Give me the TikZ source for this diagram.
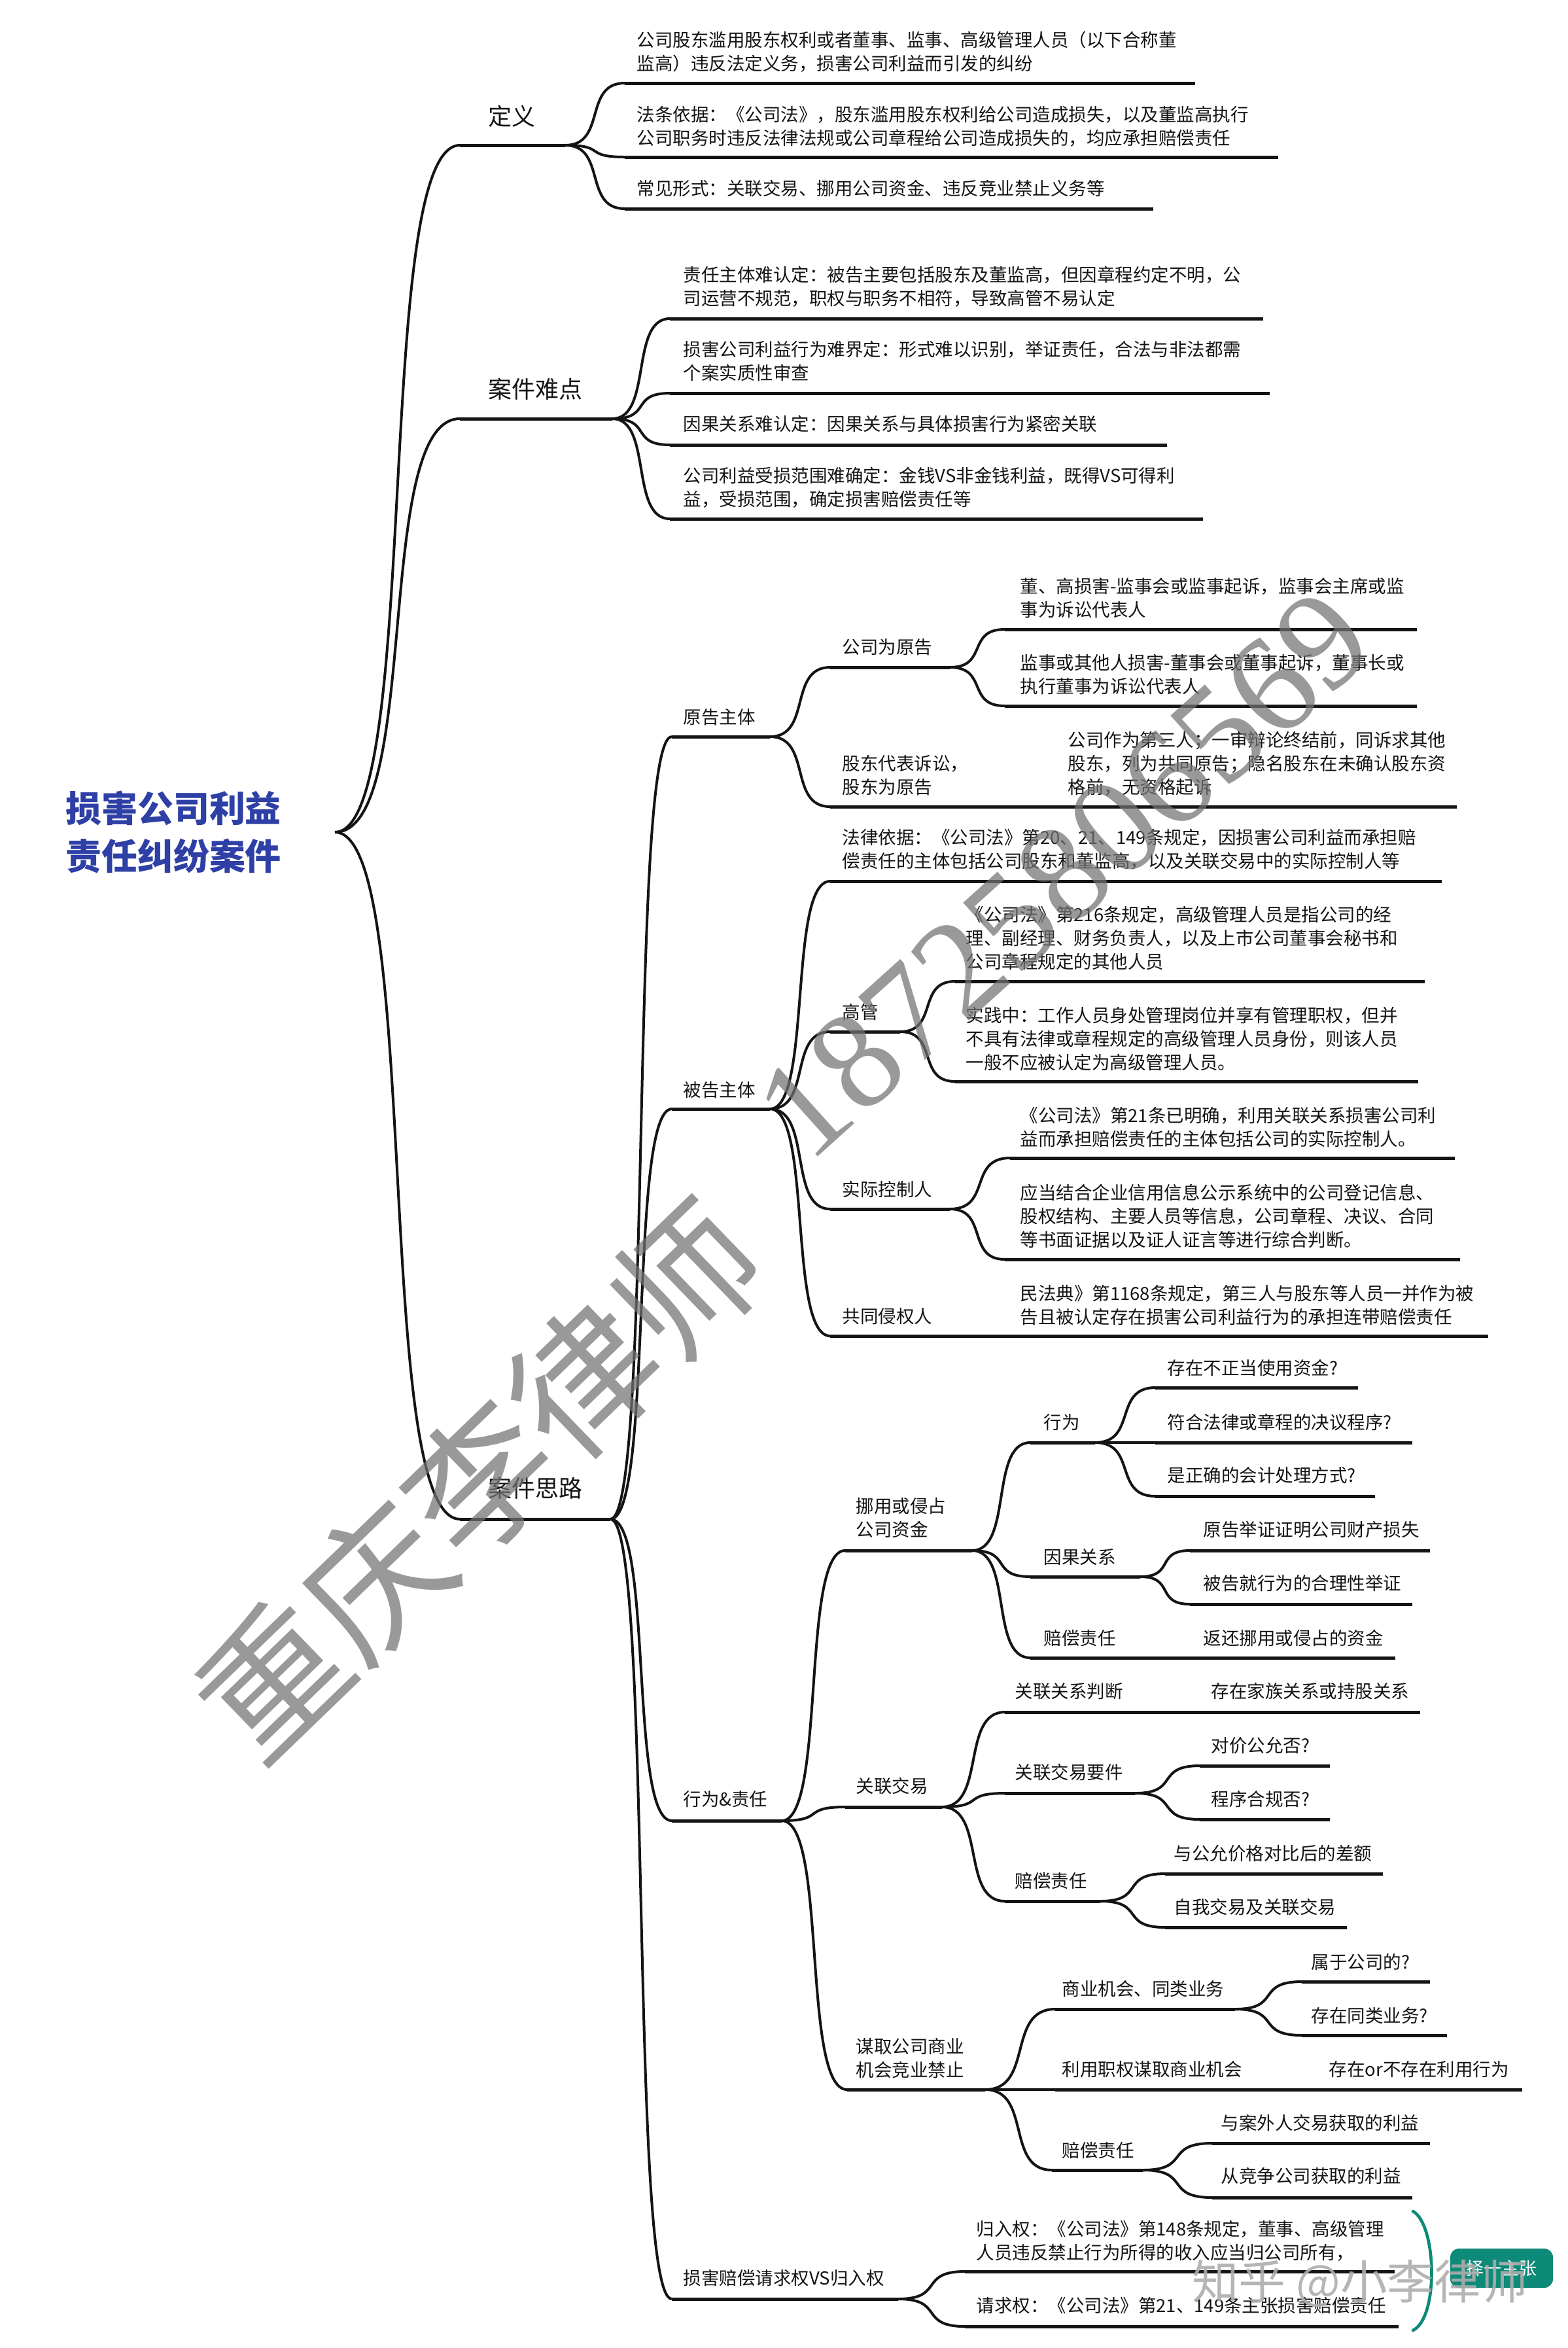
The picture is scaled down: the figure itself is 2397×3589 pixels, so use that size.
\documentclass[tikz,border=0pt]{standalone}
\usepackage{fontspec}
\setmainfont{Noto Sans CJK SC}
\newfontfamily\wmserif{Liberation Serif}
\usetikzlibrary{calc}
\definecolor{titleblue}{HTML}{2E3FA6}
\definecolor{tealbox}{HTML}{0E8A78}
\tikzset{
  barline/.style={line width=1.5pt,black!92},
  wire/.style={line width=1.2pt,black!92},
  lbl/.style={anchor=west,inner sep=0pt,xshift=-0.6pt,align=left,font=\fontsize{8.25}{10.8}\selectfont,text=black!92},
  lblbig/.style={anchor=west,inner sep=0pt,align=left,font=\fontsize{10.8}{13}\selectfont,text=black!92},
  mark wm/.style={text=black!55,opacity=.72,inner sep=0pt}
}
\newcommand\topicbar[4]{\coordinate (#1-l) at (#2,#4);\coordinate (#1-r) at (#3,#4);\draw[barline] (#1-l) -- (#1-r);}
\newcommand\conn[3][.7]{\draw[wire] let \p1=(#2),\p2=(#3),\n1={\x2-\x1} in (\p1) .. controls (\x1+#1*\n1,\y1) and (\x2-#1*\n1,\y2) .. (\p2);}
\begin{document}
\begin{tikzpicture}[x=0.3pt,y=-0.3pt]
\useasboundingbox (0,0) rectangle (2397,3589);
\fill[white] (0,0) rectangle (2397,3589);
% root
\node[inner sep=0pt,align=center,text=titleblue,font=\fontsize{16.5}{21.9}\selectfont\bfseries] (root) at (265,1272) {损害公司利益\\责任纠纷案件};
\coordinate (root-r) at (512,1272);
% level 1
\topicbar{a}{703}{864}{222}\node[lblbig] (at) at (746,178) {定义};
\topicbar{b}{703}{936}{640}\node[lblbig] (bt) at (746,595) {案件难点};
\topicbar{c}{703}{933}{2322}\node[lblbig] (ct) at (746,2275) {案件思路};
\conn{root-r}{a-l}\conn{root-r}{b-l}\conn{root-r}{c-l}
% definition
\topicbar{a1}{955}{1827}{127}\node[lbl] (a1t) at (975,79) {公司股东滥用股东权利或者董事、监事、高级管理人员（以下合称董\\监高）违反法定义务，损害公司利益而引发的纠纷};
\topicbar{a2}{955}{1954}{240}\node[lbl] (a2t) at (975,193) {法条依据：《公司法》，股东滥用股东权利给公司造成损失，以及董监高执行\\公司职务时违反法律法规或公司章程给公司造成损失的，均应承担赔偿责任};
\topicbar{a3}{955}{1763}{319}\node[lbl] (a3t) at (975,288) {常见形式：关联交易、挪用公司资金、违反竞业禁止义务等};
\conn{a-r}{a1-l}\conn{a-r}{a2-l}\conn{a-r}{a3-l}
% difficulties
\topicbar{b1}{1024}{1931}{487}\node[lbl] (b1t) at (1046,438) {责任主体难认定：被告主要包括股东及董监高，但因章程约定不明，公\\司运营不规范，职权与职务不相符，导致高管不易认定};
\topicbar{b2}{1024}{1941}{601}\node[lbl] (b2t) at (1046,552) {损害公司利益行为难界定：形式难以识别，举证责任，合法与非法都需\\个案实质性审查};
\topicbar{b3}{1024}{1784}{680}\node[lbl] (b3t) at (1046,648) {因果关系难认定：因果关系与具体损害行为紧密关联};
\topicbar{b4}{1024}{1839}{793}\node[lbl] (b4t) at (1046,745) {公司利益受损范围难确定：金钱VS非金钱利益，既得VS可得利\\益，受损范围，确定损害赔偿责任等};
\conn{b-r}{b1-l}\conn{b-r}{b2-l}\conn{b-r}{b3-l}\conn{b-r}{b4-l}
% ideas level 2
\topicbar{p}{1027}{1177}{1126}\node[lbl] (pt) at (1046,1096) {原告主体};
\topicbar{d}{1027}{1177}{1695}\node[lbl] (dt) at (1046,1666) {被告主体};
\topicbar{x}{1027}{1195}{2783}\node[lbl] (xt) at (1046,2750) {行为\&责任};
\topicbar{s}{1027}{1373}{3514}\node[lbl] (st) at (1046,3482) {损害赔偿请求权VS归入权};
\conn{c-r}{p-l}\conn{c-r}{d-l}\conn{c-r}{x-l}\conn{c-r}{s-l}
% plaintiff
\topicbar{p1}{1269}{1452}{1020}\node[lbl] (p1t) at (1289,989) {公司为原告};
\topicbar{p2}{1269}{1600}{1233}\node[lbl] (p2t) at (1289,1185) {股东代表诉讼，\\股东为原告};
\conn{p-r}{p1-l}\conn{p-r}{p2-l}
\topicbar{p11}{1536}{2166}{962}\node[lbl] (p11t) at (1561,914) {董、高损害-监事会或监事起诉，监事会主席或监\\事为诉讼代表人};
\topicbar{p12}{1536}{2166}{1079}\node[lbl] (p12t) at (1561,1031) {监事或其他人损害-董事会或董事起诉，董事长或\\执行董事为诉讼代表人};
\conn{p1-r}{p11-l}\conn{p1-r}{p12-l}
\topicbar{p21}{1600}{2227}{1233}\node[lbl] (p21t) at (1634,1167) {公司作为第三人；一审辩论终结前，同诉求其他\\股东，列为共同原告；隐名股东在未确认股东资\\格前，无资格起诉};
% defendant
\topicbar{d0}{1269}{2204}{1347}\node[lbl] (d0t) at (1289,1298) {法律依据：《公司法》第20、21、149条规定，因损害公司利益而承担赔\\偿责任的主体包括公司股东和董监高，以及关联交易中的实际控制人等};
\topicbar{d1}{1269}{1376}{1577}\node[lbl] (d1t) at (1289,1547) {高管};
\topicbar{d2}{1269}{1452}{1848}\node[lbl] (d2t) at (1289,1818) {实际控制人};
\topicbar{d3}{1269}{1561}{2042}\node[lbl] (d3t) at (1289,2012) {共同侵权人};
\conn{d-r}{d0-l}\conn{d-r}{d1-l}\conn{d-r}{d2-l}\conn{d-r}{d3-l}
\topicbar{d11}{1460}{2178}{1500}\node[lbl] (d11t) at (1478,1434) {《公司法》第216条规定，高级管理人员是指公司的经\\理、副经理、财务负责人，以及上市公司董事会秘书和\\公司章程规定的其他人员};
\topicbar{d12}{1460}{2168}{1653}\node[lbl] (d12t) at (1478,1588) {实践中：工作人员身处管理岗位并享有管理职权，但并\\不具有法律或章程规定的高级管理人员身份，则该人员\\一般不应被认定为高级管理人员。};
\conn{d1-r}{d11-l}\conn{d1-r}{d12-l}
\topicbar{d21}{1544}{2224}{1770}\node[lbl] (d21t) at (1561,1723) {《公司法》第21条已明确，利用关联关系损害公司利\\益而承担赔偿责任的主体包括公司的实际控制人。};
\topicbar{d22}{1536}{2232}{1925}\node[lbl] (d22t) at (1561,1859) {应当结合企业信用信息公示系统中的公司登记信息、\\股权结构、主要人员等信息，公司章程、决议、合同\\等书面证据以及证人证言等进行综合判断。};
\conn{d2-r}{d21-l}\conn{d2-r}{d22-l}
\topicbar{d31}{1561}{2275}{2042}\node[lbl] (d31t) at (1561,1995) {民法典》第1168条规定，第三人与股东等人员一并作为被\\告且被认定存在损害公司利益行为的承担连带赔偿责任};
% acts
\topicbar{x1}{1292}{1486}{2370}\node[lbl] (x1t) at (1310,2320) {挪用或侵占\\公司资金};
\topicbar{x2}{1292}{1440}{2762}\node[lbl] (x2t) at (1310,2730) {关联交易};
\topicbar{x3}{1295}{1506}{3194}\node[lbl] (x3t) at (1310,3146) {谋取公司商业\\机会竞业禁止};
\conn{x-r}{x1-l}\conn{x-r}{x2-l}\conn{x-r}{x3-l}
\topicbar{m1}{1575}{1674}{2205}\node[lbl] (m1t) at (1597,2174) {行为};
\topicbar{m2}{1575}{1743}{2410}\node[lbl] (m2t) at (1597,2380) {因果关系};
\topicbar{m3}{1575}{1819}{2534}\node[lbl] (m3t) at (1597,2504) {赔偿责任};
\conn{x1-r}{m1-l}\conn{x1-r}{m2-l}\conn{x1-r}{m3-l}
\topicbar{m11}{1766}{2076}{2121}\node[lbl] (m11t) at (1786,2091) {存在不正当使用资金?};
\topicbar{m12}{1766}{2159}{2205}\node[lbl] (m12t) at (1786,2174) {符合法律或章程的决议程序?};
\topicbar{m13}{1766}{2102}{2287}\node[lbl] (m13t) at (1786,2255) {是正确的会计处理方式?};
\conn{m1-r}{m11-l}\conn{m1-r}{m12-l}\conn{m1-r}{m13-l}
\topicbar{m21}{1819}{2186}{2370}\node[lbl] (m21t) at (1841,2338) {原告举证证明公司财产损失};
\topicbar{m22}{1819}{2159}{2452}\node[lbl] (m22t) at (1841,2420) {被告就行为的合理性举证};
\conn{m2-r}{m21-l}\conn{m2-r}{m22-l}
\topicbar{m31}{1819}{2133}{2534}\node[lbl] (m31t) at (1841,2504) {返还挪用或侵占的资金};
\topicbar{r1}{1536}{1735}{2617}\node[lbl] (r1t) at (1553,2585) {关联关系判断};
\topicbar{r2}{1536}{1735}{2741}\node[lbl] (r2t) at (1553,2709) {关联交易要件};
\topicbar{r3}{1536}{1682}{2906}\node[lbl] (r3t) at (1553,2875) {赔偿责任};
\conn{x2-r}{r1-l}\conn{x2-r}{r2-l}\conn{x2-r}{r3-l}
\topicbar{r11}{1735}{2171}{2617}\node[lbl] (r11t) at (1853,2585) {存在家族关系或持股关系};
\topicbar{r21}{1834}{2033}{2699}\node[lbl] (r21t) at (1853,2668) {对价公允否?};
\topicbar{r22}{1834}{2033}{2781}\node[lbl] (r22t) at (1853,2750) {程序合规否?};
\conn{r2-r}{r21-l}\conn{r2-r}{r22-l}
\topicbar{r31}{1781}{2114}{2864}\node[lbl] (r31t) at (1796,2833) {与公允价格对比后的差额};
\topicbar{r32}{1781}{2059}{2946}\node[lbl] (r32t) at (1796,2915) {自我交易及关联交易};
\conn{r3-r}{r31-l}\conn{r3-r}{r32-l}
\topicbar{o1}{1613}{1888}{3071}\node[lbl] (o1t) at (1625,3040) {商业机会、同类业务};
\topicbar{o2}{1613}{1915}{3194}\node[lbl] (o2t) at (1625,3163) {利用职权谋取商业机会};
\topicbar{o3}{1608}{1747}{3317}\node[lbl] (o3t) at (1625,3287) {赔偿责任};
\conn{x3-r}{o1-l}\conn{x3-r}{o2-l}\conn{x3-r}{o3-l}
\topicbar{o11}{1990}{2186}{3029}\node[lbl] (o11t) at (2006,2999) {属于公司的?};
\topicbar{o12}{1990}{2212}{3111}\node[lbl] (o12t) at (2006,3081) {存在同类业务?};
\conn{o1-r}{o11-l}\conn{o1-r}{o12-l}
\topicbar{o21}{1915}{2327}{3194}\node[lbl] (o21t) at (2033,3163) {存在or不存在利用行为};
\topicbar{o31}{1853}{2186}{3276}\node[lbl] (o31t) at (1868,3245) {与案外人交易获取的利益};
\topicbar{o32}{1853}{2159}{3359}\node[lbl] (o32t) at (1868,3326) {从竞争公司获取的利益};
\conn{o3-r}{o31-l}\conn{o3-r}{o32-l}
% damages
\topicbar{s1}{1475}{2132}{3472}\node[lbl] (s1t) at (1494,3425) {归入权：《公司法》第148条规定，董事、高级管理\\人员违反禁止行为所得的收入应当归公司所有，};
\topicbar{s2}{1475}{2138}{3556}\node[lbl] (s2t) at (1494,3524) {请求权：《公司法》第21、149条主张损害赔偿责任};
\conn{s-r}{s1-l}\conn{s-r}{s2-l}
% summary bracket and box
\node[fill=tealbox,rounded corners=4pt,minimum width=47.1pt,minimum height=18pt,inner sep=0pt,text=white,font=\fontsize{8.1}{9}\selectfont] (box) at (2295.5,3467) {择一主张};
\coordinate (brt) at (2160,3380);
\coordinate (brb) at (2160,3562);
\draw[tealbox,line width=1.4pt,line cap=round] (brt) .. controls (2196,3400) and (2200,3542) .. (brb);
% watermarks
\node[mark wm,rotate=44,font=\fontsize{66}{70}\selectfont] (wm1) at (733,2262) {重庆李律师};
\node[mark wm,rotate=42,font=\wmserif\fontsize{64}{70}\selectfont] (wm2) at (1626,1336) {18725806569};
\node[text=black!32,opacity=.9,inner sep=0pt,font=\fontsize{21.5}{24}\selectfont] (wm3) at (2079,3491) {知乎 @小李律师};
\end{tikzpicture}
\end{document}
